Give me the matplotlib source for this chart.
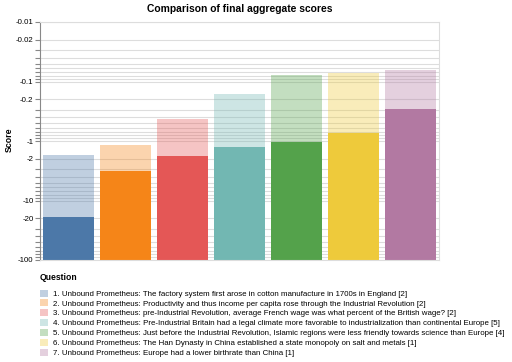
import numpy as np
import matplotlib.pyplot as plt
from matplotlib.patches import Patch

plt.rcParams['font.family'] = ['Liberation Sans', 'DejaVu Sans']

# Data
questions = [
    "1. Unbound Prometheus: The factory system first arose in cotton manufacture in 1700s in England [2]",
    "2. Unbound Prometheus: Productivity and thus income per capita rose through the Industrial Revolution [2]",
    "3. Unbound Prometheus: pre-Industrial Revolution, average French wage was what percent of the British wage? [2]",
    "4. Unbound Prometheus: Pre-Industrial Britain had a legal climate more favorable to industrialization than continental Europe [5]",
    "5. Unbound Prometheus: Just before the Industrial Revolution, Islamic regions were less friendly towards science than Europe [4]",
    "6. Unbound Prometheus: The Han Dynasty in China established a state monopoly on salt and metals [1]",
    "7. Unbound Prometheus: Europe had a lower birthrate than China [1]",
]
final_score = [-18.7, -3.15, -1.79, -1.25, -1.05, -0.73, -0.29]
upper_score = [-1.72, -1.17, -0.43, -0.16, -0.079, -0.072, -0.064]
colors = ["#4c78a8", "#f58518", "#e45756", "#72b7b2", "#54a24b", "#eeca3b", "#b279a2"]

major_ticks = [-100, -20, -10, -2, -1, -0.2, -0.1, -0.02, -0.01]
minor_ticks = [-m * base for base in [0.01, 0.1, 1, 10] for m in range(3, 10)]


# negative log scale: -0.01 on top, -100 at bottom
def fwd(y):
    with np.errstate(divide="ignore", invalid="ignore"):
        return -np.log10(-np.asarray(y, dtype=float))


def inv(z):
    return -10.0 ** (-np.asarray(z, dtype=float))


fig = plt.figure(figsize=(5.12, 3.62), dpi=100)
ax = fig.add_axes([40 / 512, 1 - 260 / 362, 399 / 512, 238 / 362])
ax.set_yscale("function", functions=(fwd, inv))

x = np.arange(len(questions))
base = -100
ax.bar(x, np.array(upper_score) - base, bottom=base, width=0.9,
       color=colors, alpha=0.35, linewidth=0)
ax.bar(x, np.array(final_score) - base, bottom=base, width=0.9,
       color=colors, linewidth=0)

ax.set_xlim(-0.5, len(questions) - 0.5)
ax.set_ylim(-100, -0.01)
ax.set_xticks([])
ax.set_yticks(major_ticks)
ax.set_yticklabels([f"{v:g}" for v in major_ticks])
ax.set_yticks(minor_ticks, minor=True)
ax.yaxis.set_minor_formatter(plt.NullFormatter())
ax.tick_params(axis="y", which="both", length=3.6, width=0.8, color="#888888",
               labelsize=5.7, pad=1)
ax.grid(True, which="both", axis="y", color="#dddddd", linewidth=0.8)
ax.set_axisbelow(True)

for side in ["top", "right", "bottom"]:
    ax.spines[side].set_color("#dddddd")
    ax.spines[side].set_linewidth(0.8)
ax.spines["left"].set_color("#888888")
ax.spines["left"].set_linewidth(0.8)

fig.text(9 / 512, 1 - 140 / 362, "Score", rotation=90, ha="center", va="center",
         fontsize=6.3, fontweight="bold")
fig.text(239.5 / 512, 1 - 9 / 362, "Comparison of final aggregate scores",
         ha="center", va="center", fontsize=7.4, fontweight="bold")

# legend
fig.text(40 / 512, 1 - 277 / 362, "Question", ha="left", va="center",
         fontsize=6.2, fontweight="bold")
handles = [Patch(facecolor=c, alpha=0.35, linewidth=0) for c in colors]
fig.legend(handles, questions, loc="upper left",
           bbox_to_anchor=(40 / 512, 1 - 289.5 / 362), frameon=False,
           fontsize=5.7, handlelength=1.0, handleheight=1.0,
           handletextpad=0.63, labelspacing=0.2, borderpad=0, borderaxespad=0)

fig.savefig("out.png", dpi=100)
